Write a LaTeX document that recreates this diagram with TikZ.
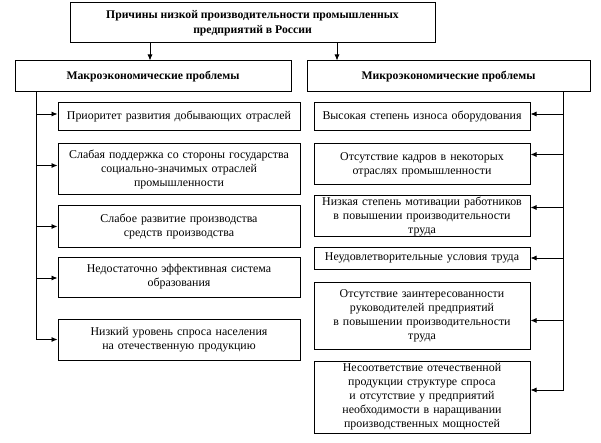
\documentclass[tikz,border=0pt]{standalone}
\usepackage{fontspec}
\setmainfont{Liberation Serif}
\usetikzlibrary{positioning, arrows.meta, calc}

\tikzset{
  box/.style={draw, line width=1pt, align=center, inner sep=1pt,
    font=\fontsize{11.9}{14}\selectfont},
  lbox/.style={box, minimum width=242, text width=238},
  rbox/.style={box, minimum width=216, text width=214},
  head/.style={box, font=\bfseries\fontsize{11.7}{14.5}\selectfont},
  arr/.style={-{Latex[length=6pt,width=5pt]}, line width=0.8pt},
  bus/.style={line width=0.8pt},
}

\begin{document}
\begin{tikzpicture}[x=1pt,y=-1pt]
    \useasboundingbox (0,0) rectangle (601,443);

    % Header
    \node[head, minimum width=365, minimum height=40] (title) at (252.5,23)
        {Причины низкой производительности промышленных\\предприятий в России};

    % Groups
    \node[head, minimum width=276, minimum height=31] (macro) at (153,76.5)
        {Макроэкономические проблемы};
    \node[head, minimum width=283, minimum height=31] (micro) at (448.5,76.5)
        {Микроэкономические проблемы};

    \draw[arr] ([xshift=-102.5pt]title.south) -- ([xshift=-102.5pt]title.south |- macro.north);
    \draw[arr] ([xshift=84.5pt]title.south) -- ([xshift=84.5pt]title.south |- micro.north);

    % Macro causes
    \node[lbox, minimum height=28] (m1) at (179,117) {Приоритет развития добывающих отраслей};
    \node[lbox, minimum height=51] (m2) at (179,169.5) {Слабая поддержка со стороны государства\\социально-значимых отраслей\\промышленности};
    \node[lbox, minimum height=41] (m3) at (179,226.5) {Слабое развитие производства\\средств производства};
    \node[lbox, minimum height=40] (m4) at (179,277) {Недостаточно эффективная система\\образования};
    \node[lbox, minimum height=41] (m5) at (179,339.5) {Низкий уровень спроса населения\\на отечественную продукцию};

    % Micro causes
    \node[rbox, minimum height=28] (r1) at (422,117) {Высокая степень износа оборудования};
    \node[rbox, minimum height=41] (r2) at (422,164.5) {Отсутствие кадров в некоторых\\отраслях промышленности};
    \node[rbox, minimum height=41, inner ysep=0pt] (r3) at (422,216.5) {Низкая степень мотивации работников\\в повышении производительности\\труда};
    \node[rbox, minimum height=22] (r4) at (422,258) {Неудовлетворительные условия труда};
    \node[rbox, minimum height=67] (r5) at (422,315.5) {Отсутствие заинтересованности\\руководителей предприятий\\в повышении производительности\\труда};
    \node[rbox, minimum height=72] (r6) at (422,397) {Несоответствие отечественной\\продукции структуре спроса\\и отсутствие у предприятий\\необходимости в наращивании\\производственных мощностей};

    % Left bus
    \coordinate (ltop) at ([xshift=22pt]macro.south west);
    \draw[bus] (ltop) -- (ltop |- m5.west);
    \foreach \n/\s in {m1/3, m2/4, m3/0, m4/-1, m5/0}
        \draw[arr] ([yshift=\s pt]ltop |- \n.west) -- ([yshift=\s pt]\n.west);

    % Right bus
    \coordinate (rtop) at ([xshift=-27pt]micro.south east);
    \draw[bus] (rtop) -- ([yshift=7pt]rtop |- r6.east);
    \foreach \n/\s in {r1/3, r2/10, r3/9, r4/0, r5/-5, r6/7}
        \draw[arr] ([yshift=\s pt]rtop |- \n.east) -- ([yshift=\s pt]\n.east);
\end{tikzpicture}
\end{document}
